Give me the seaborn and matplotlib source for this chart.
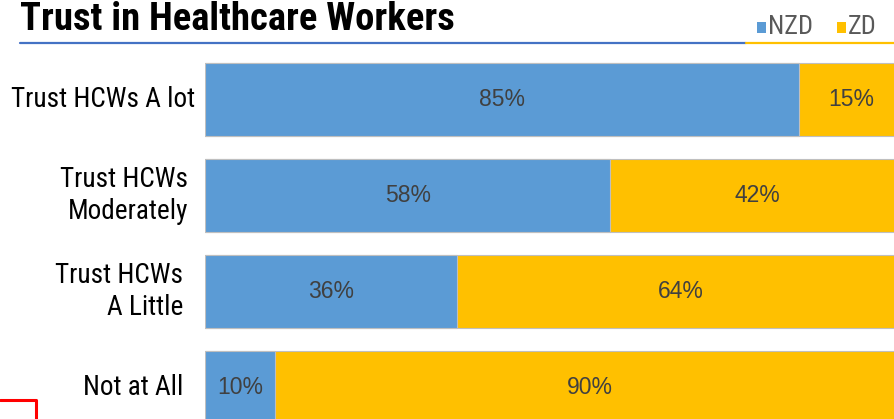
import matplotlib
matplotlib.use("Agg")
import matplotlib.pyplot as plt
import matplotlib.transforms as mtransforms
import seaborn as sns
import pandas as pd

# --- data -------------------------------------------------------------
categories = ["Trust HCWs A lot", "Trust HCWs\nModerately", "Trust HCWs\nA Little", "Not at All"]
nzd_pct = [85, 58, 36, 10]
zd_pct = [15, 42, 64, 90]
series_names = ["NZD", "ZD"]

# --- style ------------------------------------------------------------
sns.set_theme(style="white")
NARROW = ["Roboto Condensed", "DejaVu Sans"]
plt.rcParams["font.family"] = NARROW

BLUE = "#5B9BD5"
GOLD = "#FFC000"
EDGE = "#BFBFBF"
LABEL_GRAY = "#404040"

W, H = 894, 419
fig = plt.figure(figsize=(W / 100, H / 100), dpi=100)

# axes placed in pixel terms; the plot area runs slightly past the right edge
ax_left, ax_right = 205, 904
ax_top, ax_bottom = 51, 436
ax = fig.add_axes([ax_left / W, (H - ax_bottom) / H,
                   (ax_right - ax_left) / W, (ax_bottom - ax_top) / H])

df = pd.DataFrame({"category": categories, "NZD": nzd_pct, "ZD": zd_pct})
df["total"] = df["NZD"] + df["ZD"]

# stacked bars: full total in gold, NZD share in blue drawn over it
sns.barplot(data=df, y="category", x="total", orient="h", color=GOLD,
            saturation=1, width=0.76, edgecolor=EDGE, linewidth=0.8, ax=ax)
sns.barplot(data=df, y="category", x="NZD", orient="h", color=BLUE,
            saturation=1, width=0.76, edgecolor=EDGE, linewidth=0.8, ax=ax)

ax.set_xlim(0, 100)
ax.set_ylim(3.5, -0.5)
ax.set_xlabel("")
ax.set_ylabel("")
ax.set_xticks([])
ax.set_yticks([])
for s in ax.spines.values():
    s.set_visible(False)

# segment value labels
for i, (a, b) in enumerate(zip(nzd_pct, zd_pct)):
    ax.text(a / 2, i, f"{a}%", ha="center", va="center", fontsize=16.5,
            color=LABEL_GRAY, family=["Liberation Sans", "DejaVu Sans"])
    ax.text(a + b / 2, i, f"{b}%", ha="center", va="center", fontsize=16.5,
            color=LABEL_GRAY, family=["Liberation Sans", "DejaVu Sans"])

# category labels, right-aligned left of the bars
label_right_px = [195, 188, 183, 183]
tr = mtransforms.blended_transform_factory(fig.transFigure, ax.transData)
for i, (lab, rx) in enumerate(zip(categories, label_right_px)):
    ax.text(rx / W, i, lab, transform=tr, ha="right", va="center",
            fontsize=19.6, color="black", linespacing=1.25)

# title and rule beneath it
fig.text(20 / W, 1 - 19 / H, "Trust in Healthcare Workers", ha="left", va="center",
         fontsize=27.8, fontweight="bold", color="black")
fig.add_artist(plt.Line2D([20 / W, 746 / W], [1 - 43 / H, 1 - 43 / H],
                          color="#4472C4", lw=1.6, transform=fig.transFigure))
fig.add_artist(plt.Line2D([746 / W, 1.0], [1 - 43.5 / H, 1 - 43.5 / H],
                          color=GOLD, lw=1.6, transform=fig.transFigure))

# legend: small squares with series names
legend_items = [(757, 768, BLUE), (837, 848, GOLD)]
for (sq_x, tx_x, col), name in zip(legend_items, series_names):
    fig.add_artist(plt.Rectangle((sq_x / W, 1 - 33 / H), 9 / W, 11 / H,
                                 facecolor=col, edgecolor="none",
                                 transform=fig.transFigure))
    fig.text(tx_x / W, 1 - 27 / H, name, ha="left", va="center",
             fontsize=19, color="#595959")

# red corner marker at lower left
fig.add_artist(plt.Line2D([0, 36 / W, 36 / W], [1 - 400 / H, 1 - 400 / H, 0],
                          color="#FF0000", lw=2.2, transform=fig.transFigure))

fig.savefig("out.png", dpi=100)
